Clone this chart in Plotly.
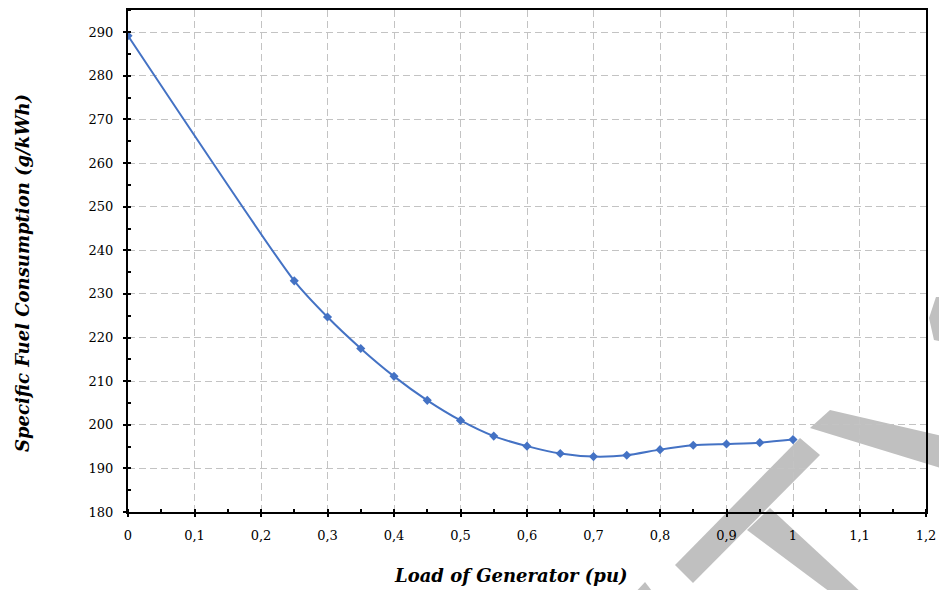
import plotly.graph_objects as go

# ---- data ----
load_pu = [0, 0.25, 0.3, 0.35, 0.4, 0.45, 0.5, 0.55, 0.6, 0.65, 0.7, 0.75, 0.8, 0.85, 0.9, 0.95, 1.0]
sfc = [289.2, 233.0, 224.7, 217.5, 211.1, 205.6, 201.0, 197.4, 195.1, 193.4, 192.7, 193.0, 194.3, 195.3, 195.6, 195.9, 196.6]
x_ticks = [0, 0.1, 0.2, 0.3, 0.4, 0.5, 0.6, 0.7, 0.8, 0.9, 1.0, 1.1, 1.2]
x_tick_labels = ["0", "0,1", "0,2", "0,3", "0,4", "0,5", "0,6", "0,7", "0,8", "0,9", "1", "1,1", "1,2"]
y_ticks = [180, 190, 200, 210, 220, 230, 240, 250, 260, 270, 280, 290]

W, H = 939, 590
L, R, T, B = 128, 13, 10, 78
X_RANGE = [0, 1.2]
Y_RANGE = [180, 295.1]

BLUE = "#4472C4"
GRID = "#c3c3c3"
FONT = "DejaVu Serif"

fig = go.Figure()
fig.add_trace(go.Scatter(
    x=load_pu, y=sfc, mode="lines+markers",
    line=dict(color=BLUE, width=2, shape="spline", smoothing=0.6),
    marker=dict(symbol="diamond", size=7, color=BLUE),
    showlegend=False, hoverinfo="x+y",
))
# dummy trace so that overlay axes (inside part of cross ticks) render
fig.add_trace(go.Scatter(x=[None], y=[None], xaxis="x2", yaxis="y2",
                         showlegend=False, hoverinfo="skip"))

pw, ph = W - L - R, H - T - B


def px(xp):
    return (xp - L) / pw


def py(yp):
    return (H - B - yp) / ph


def poly(pts):
    return "M " + " L ".join(f"{px(a):.4f},{py(b):.4f}" for a, b in pts) + " Z"


WM = "rgb(192,192,192)"
watermark = [
    [(675, 565), (800, 438), (820, 455), (693, 583)],
    [(810, 428), (830, 410), (960, 440), (960, 474)],
    [(747, 530), (770, 508), (864, 595), (834, 595)],
    [(929, 318), (936, 297), (960, 297), (960, 345), (934, 340)],
    [(633, 595), (645, 582), (655, 595)],
]
shapes = [dict(type="path", xref="paper", yref="paper", path=poly(p),
               fillcolor=WM, line=dict(width=0), layer="below") for p in watermark]

axis_common = dict(showline=True, linecolor="black", linewidth=2, mirror=True,
                   ticks="outside", ticklen=3, tickwidth=2, tickcolor="black",
                   showgrid=True, gridcolor=GRID, gridwidth=1, griddash="7px,4px",
                   zeroline=False, tickfont=dict(family=FONT, size=13, color="black"),
                   ticklabelstandoff=7, automargin=False)

fig.update_layout(
    width=W, height=H, autosize=False,
    margin=dict(l=L, r=R, t=T, b=B, autoexpand=False),
    paper_bgcolor="white", plot_bgcolor="rgba(0,0,0,0)",
    shapes=shapes,
    xaxis=dict(range=X_RANGE, tickvals=x_ticks, ticktext=x_tick_labels,
               minor=dict(dtick=0.05, tick0=0, ticks="inside", ticklen=3,
                          tickwidth=2, tickcolor="black", showgrid=False),
               **axis_common),
    yaxis=dict(range=Y_RANGE, tickvals=y_ticks,
               minor=dict(tickvals=[v + 5 for v in y_ticks], ticks="inside", ticklen=3,
                          tickwidth=2, tickcolor="black", showgrid=False),
               **axis_common),
    xaxis2=dict(overlaying="x", anchor="y2", range=X_RANGE, tickvals=x_ticks,
                ticks="inside", ticklen=3, tickwidth=2, tickcolor="black", automargin=False,
                showticklabels=False, showgrid=False, zeroline=False, showline=False),
    yaxis2=dict(overlaying="y", anchor="x2", range=Y_RANGE, tickvals=y_ticks,
                ticks="inside", ticklen=3, tickwidth=2, tickcolor="black", automargin=False,
                showticklabels=False, showgrid=False, zeroline=False, showline=False),
    annotations=[
        dict(text="<b><i>Load of Generator (pu)</i></b>", xref="paper", yref="paper",
             x=px(510), y=py(575), showarrow=False, xanchor="center", yanchor="middle",
             font=dict(family=FONT, size=18, color="black")),
        dict(text="<b><i>Specific Fuel Consumption (g/kWh)</i></b>", xref="paper", yref="paper",
             x=px(22), y=py(273), showarrow=False, xanchor="center", yanchor="middle",
             textangle=-90, font=dict(family=FONT, size=18, color="black")),
    ],
)

fig.write_html("out.html",
               config={"displayModeBar": False, "responsive": False},
               post_script="document.body.style.margin='0';document.body.style.padding='0';document.body.style.overflow='hidden';")
